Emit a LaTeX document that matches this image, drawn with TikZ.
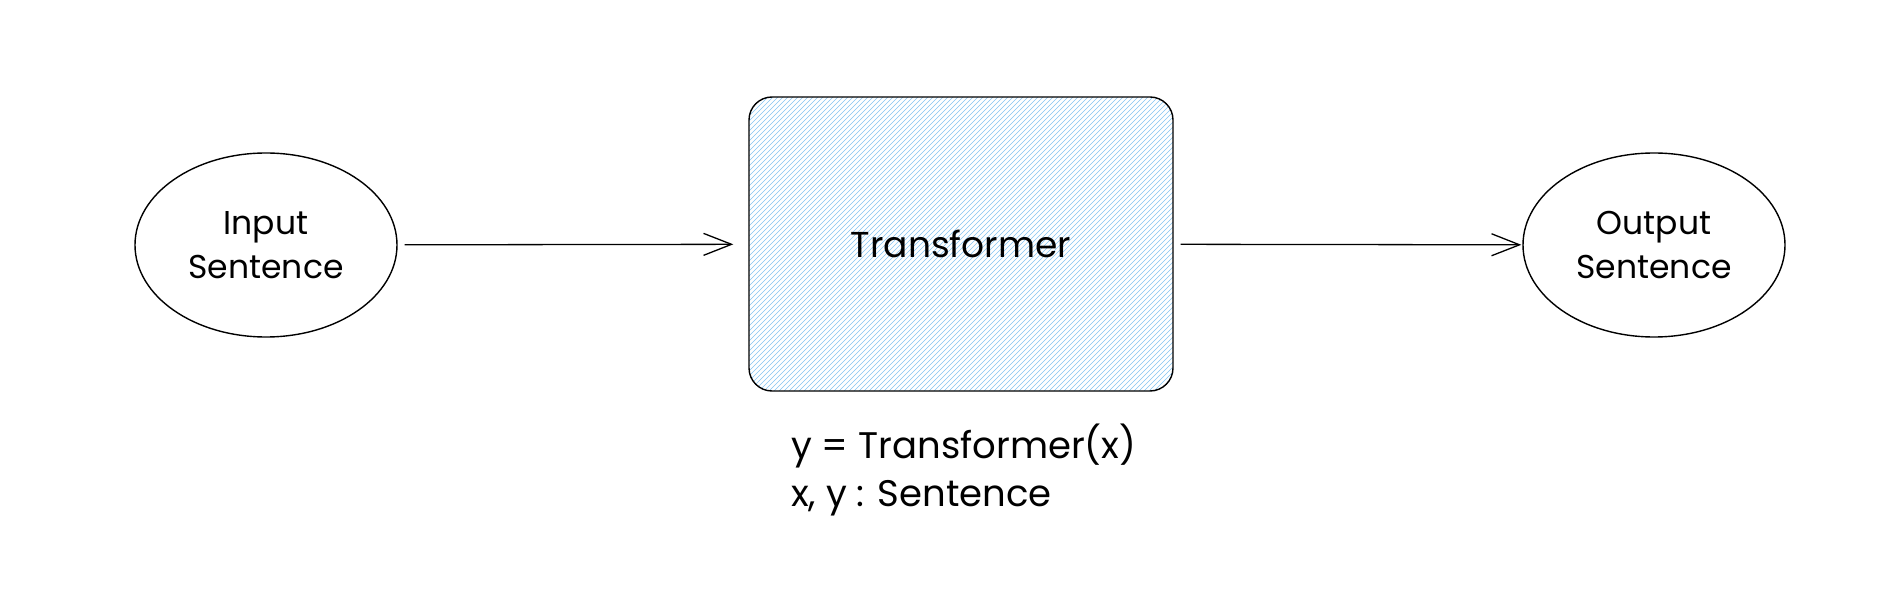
\documentclass[tikz,border=0pt]{standalone}
\usepackage{fontspec}
\setmainfont{Poppins}
\usetikzlibrary{positioning,arrows.meta,shapes.geometric}
\definecolor{hatchblue}{RGB}{130,195,240}

\begin{document}
\begin{tikzpicture}[
  x=1pt,y=-1pt,
  sent/.style={ellipse,draw,line width=1.4pt,minimum width=262pt,minimum height=184pt,inner sep=0pt,align=center,font=\fontsize{33}{44}\selectfont},
  model/.style={draw,rounded corners=23pt,line width=1.4pt,minimum width=424pt,minimum height=294pt,font=\fontsize{36}{44}\selectfont},
  note/.style={align=left,inner sep=0pt,anchor=north west,font=\fontsize{37}{48}\selectfont},
  flow/.style={line width=1.3pt,-{Straight Barb[length=28pt,width=22pt,line width=1.3pt]}},
  hatch/.style={hatchblue,line width=0.55pt},
]
  \useasboundingbox (0,0) rectangle (1899,593);
  % hatching under the box
  \begin{scope}
    \clip[rounded corners=23pt] (749,97) rectangle (1173,391);
    \foreach \k in {-300,-295,...,430}
      \draw[hatch] (749+\k,391) -- ++(300,-300);
  \end{scope}
  \node[sent]  (in)  at (266,245)  {Input\\Sentence};
  \node[model] (tf)  at (961,244)  {Transformer};
  \node[sent]  (out) at (1654,245) {Output\\Sentence};
  \node[note]  (eq)  at (791,424)  {y = Transformer(x)\\x, y : Sentence};
  \draw[flow,shorten <=7pt,shorten >=15pt] (in) -- (tf);
  \draw[flow,shorten <=7pt,shorten >=1pt] (tf) -- (out);
\end{tikzpicture}
\end{document}
